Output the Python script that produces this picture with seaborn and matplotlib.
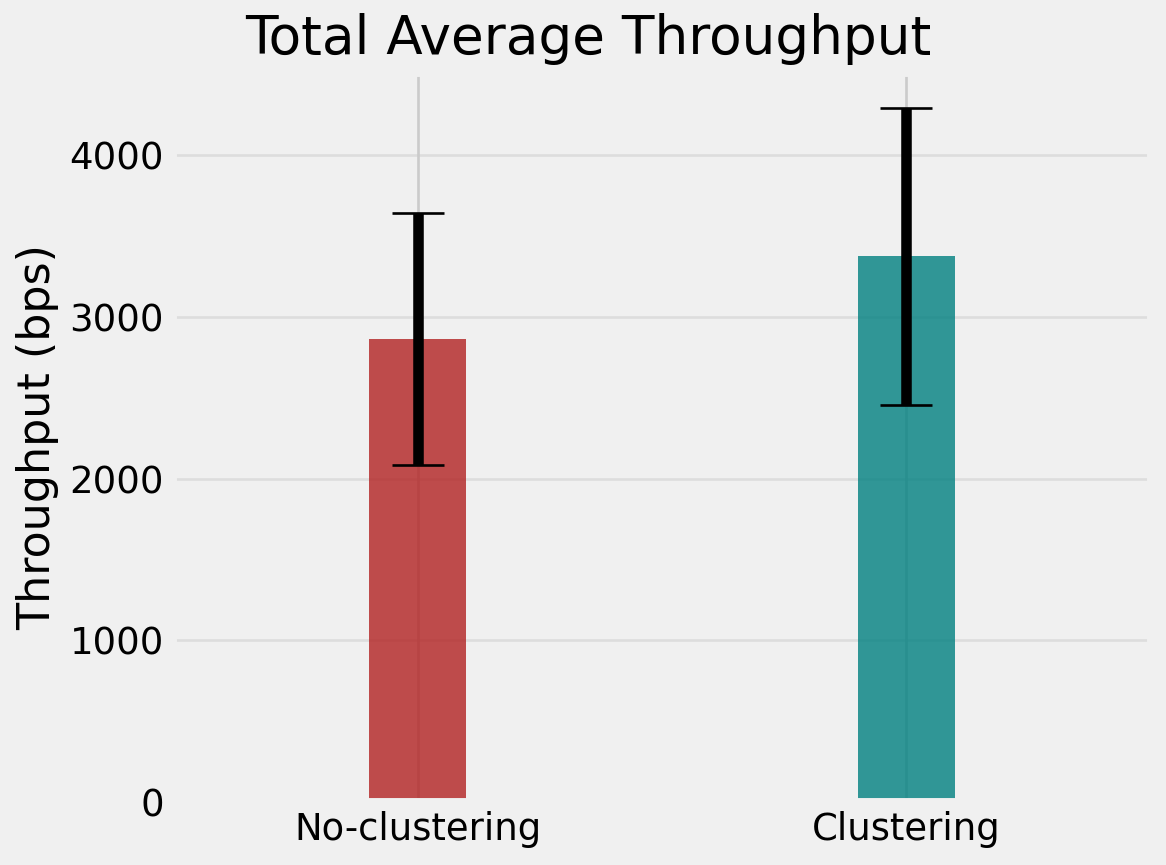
import matplotlib
matplotlib.use("Agg")
import matplotlib.pyplot as plt
import seaborn as sns
import pandas as pd

# data
methods = ["No-clustering", "Clustering"]
mean_throughput = [2865, 3375]
std_throughput = [780, 920]
bar_colors = ["firebrick", "teal"]

plt.style.use("fivethirtyeight")
plt.rcParams["font.family"] = ["DejaVu Sans"]

df = pd.DataFrame({"Method": methods, "Throughput": mean_throughput})

fig = plt.figure(figsize=(1166 / 190, 865 / 190), dpi=190)
ax = fig.add_axes([0.1484, 0.0728, 0.8387, 0.8428])

sns.barplot(data=df, x="Method", y="Throughput", hue="Method",
            palette=bar_colors, width=0.2, alpha=0.8, saturation=1,
            legend=False, errorbar=None, ax=ax)
ax.errorbar(methods, mean_throughput, yerr=std_throughput, fmt="none",
            ecolor="black", elinewidth=4, capsize=10, capthick=1)

ax.xaxis.grid(True, color="#cbcbcb", linewidth=1.0)
ax.yaxis.grid(True, color="#cbcbcb", linewidth=1.0, alpha=0.5)
ax.set_axisbelow(True)

ax.set_xlabel("")
ax.set_ylabel("Throughput (bps)")
ax.set_xlim(-0.5, 1.5)
fig.suptitle("Total Average Throughput", x=0.5043, y=0.985, fontsize="x-large")

fig.savefig("out.png", dpi=190)
